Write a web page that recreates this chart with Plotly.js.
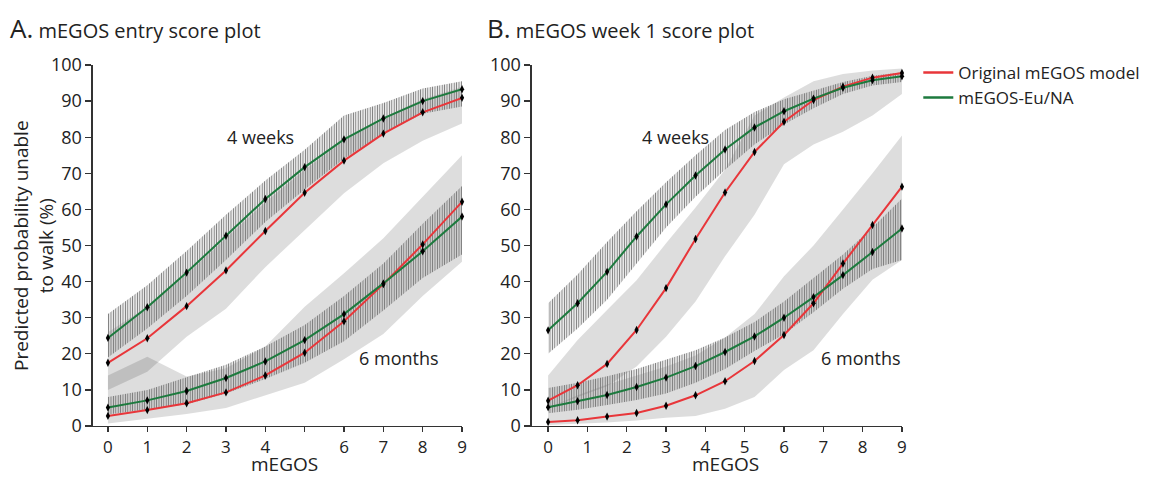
<!DOCTYPE html>
<html>
<head>
<meta charset="utf-8">
<script src="https://cdn.plot.ly/plotly-3.0.1.min.js"></script>
<style>html,body{margin:0;padding:0;background:#fff;}#chart{width:1158px;height:478px;}</style>
</head>
<body>
<div id="chart"></div>
<script>
// ---- Data ----
const xTickVals = [0,1,2,3,4,5,6,7,8,9];
const xTickTextA = ['0','1','2','3','4','','6','7','8','9'];
const xTickTextB = ['0','1','2','3','4','5','6','7','8','9'];

// Panel A: mEGOS entry score
const xA = [0,1,2,3,4,5,6,7,8,9];
const redA4w   = [17.5, 24.3, 33.2, 43.1, 54.0, 64.6, 73.5, 81.0, 86.9, 90.9];
const greenA4w = [24.4, 32.9, 42.5, 52.7, 62.9, 71.7, 79.4, 85.2, 90.0, 93.3];
const redA6m   = [2.8, 4.4, 6.3, 9.3, 14.0, 20.3, 29.0, 39.3, 50.3, 62.1];
const greenA6m = [5.1, 7.1, 9.7, 13.3, 17.9, 23.8, 31.0, 39.5, 48.4, 58.0];
const redA4wLo = [10, 15, 24.7, 32.5, 44, 54.3, 64.5, 72.8, 79, 83.8];
const redA4wHi = [26, 33, 42, 52, 62, 71, 79, 85.5, 90.5, 94];
const greenA4wLo = [19, 27, 36, 46, 56.5, 65.5, 74, 81, 86.5, 88.5];
const greenA4wHi = [31, 39, 48.5, 58.5, 68, 76.5, 86, 89.5, 93.5, 95.5];
const redA6mLo = [0.7, 2, 3.3, 5, 8.5, 12, 18.5, 25.5, 36, 45.5];
const redA6mHi = [14, 19.2, 13.7, 16, 22, 33, 42.3, 52, 63.5, 75];
const greenA6mLo = [3.2, 4.5, 6, 9, 13, 17.5, 23.5, 32, 41, 47.5];
const greenA6mHi = [8, 10, 13.5, 17, 22, 28, 36, 45, 56, 66.5];

// Panel B: mEGOS week 1 score
const xB = [0,0.75,1.5,2.25,3,3.75,4.5,5.25,6,6.75,7.5,8.25,9];
const redB4w   = [7.0, 11.3, 17.2, 26.6, 38.2, 51.8, 64.7, 75.9, 84.3, 90.3, 94.0, 96.5, 97.8];
const greenB4w = [26.5, 34.0, 42.7, 52.5, 61.4, 69.4, 76.6, 82.7, 87.2, 90.7, 93.7, 95.8, 96.9];
const redB6m   = [1.1, 1.6, 2.6, 3.6, 5.6, 8.5, 12.4, 18.0, 25.2, 34.0, 45.0, 55.7, 66.3];
const greenB6m = [5.2, 6.9, 8.6, 10.8, 13.4, 16.6, 20.5, 24.8, 30.0, 35.7, 41.8, 48.2, 54.7];
const redB4wLo = [5, 8, 11, 16.5, 24.7, 34.5, 47, 58.5, 72.5, 78, 81.5, 86, 92];
const redB4wHi = [14, 23.8, 32.1, 40.4, 50.6, 60.5, 71, 86, 91, 95.5, 97.5, 98.5, 99];
const greenB4wLo = [20, 27, 35, 45, 55, 63.5, 71, 78, 83.5, 88, 92, 94.3, 95.3];
const greenB4wHi = [34, 42, 51, 59.5, 67.5, 75, 82, 87, 90.5, 93, 95.3, 97, 98];
const redB6mLo = [0.3, 0.6, 1, 1.5, 2.3, 2.8, 4.8, 8, 15.5, 21, 31, 40.5, 46];
const redB6mHi = [5, 8.5, 11.5, 14, 16.5, 19.5, 24.5, 31, 41.5, 50, 60, 70, 80.5];
const greenB6mLo = [3.5, 4.5, 5.8, 7.2, 9, 12, 15.8, 20.8, 25.4, 31.5, 38, 43.5, 46];
const greenB6mHi = [10.5, 12, 13.8, 15.8, 18.5, 21, 24.5, 28.8, 34.5, 41, 47.5, 55, 63];

// ---- Styles ----
const RED = '#e8363a';
const GREEN = '#1d7a3e';
const GRAYFILL = 'rgba(0,0,0,0.135)';

function grayBand(x, lo, hi, ax) {
  return {
    x: x.concat(x.slice().reverse()),
    y: lo.concat(hi.slice().reverse()),
    xaxis: ax[0], yaxis: ax[1],
    type: 'scatter', mode: 'lines', fill: 'toself',
    fillcolor: GRAYFILL, line: {width: 0, color: 'rgba(0,0,0,0)'},
    hoverinfo: 'skip', showlegend: false
  };
}
function hatchBand(x, lo, hi, ax) {
  return {
    x: x.concat(x.slice().reverse()),
    y: lo.concat(hi.slice().reverse()),
    xaxis: ax[0], yaxis: ax[1],
    type: 'scatter', mode: 'lines', fill: 'toself',
    fillcolor: 'rgba(0,0,0,0)',
    fillpattern: {shape: '|', size: 2.4, solidity: 0.45, fgcolor: '#777', bgcolor: 'rgba(0,0,0,0)'},
    line: {width: 0, color: 'rgba(0,0,0,0)'},
    hoverinfo: 'skip', showlegend: false
  };
}
function curve(x, y, color, ax) {
  return {
    x: x, y: y, xaxis: ax[0], yaxis: ax[1],
    type: 'scatter', mode: 'lines+markers',
    line: {color: color, width: 2},
    marker: {symbol: 'diamond-tall', size: 6, color: '#000'},
    cliponaxis: false, showlegend: false
  };
}

const A = ['x','y'], B = ['x2','y2'];
const traces = [
  grayBand(xA, redA4wLo, redA4wHi, A),
  grayBand(xA, redA6mLo, redA6mHi, A),
  grayBand(xB, redB4wLo, redB4wHi, B),
  grayBand(xB, redB6mLo, redB6mHi, B),
  hatchBand(xA, greenA4wLo, greenA4wHi, A),
  hatchBand(xA, greenA6mLo, greenA6mHi, A),
  hatchBand(xB, greenB4wLo, greenB4wHi, B),
  hatchBand(xB, greenB6mLo, greenB6mHi, B),
  curve(xA, redA4w, RED, A),
  curve(xA, redA6m, RED, A),
  curve(xA, greenA4w, GREEN, A),
  curve(xA, greenA6m, GREEN, A),
  curve(xB, redB4w, RED, B),
  curve(xB, redB6m, RED, B),
  curve(xB, greenB4w, GREEN, B),
  curve(xB, greenB6m, GREEN, B),
  {x:[null], y:[null], type:'scatter', mode:'lines', line:{color:RED, width:2.5}, name:'Original mEGOS model', showlegend:true},
  {x:[null], y:[null], type:'scatter', mode:'lines', line:{color:GREEN, width:2.5}, name:'mEGOS-Eu/NA', showlegend:true}
];

const FONT = '"Open Sans", "DejaVu Sans", sans-serif';
const tickFont = {family: FONT, size: 18, color: '#222'};
function xAxis(domain, range, ticktext, anchor) {
  return {
    domain: domain, range: range, anchor: anchor,
    tickvals: xTickVals, ticktext: ticktext,
    showline: true, linecolor: '#333', linewidth: 1.5,
    ticks: 'outside', ticklen: 5, tickwidth: 1.3, tickcolor: '#333',
    tickfont: {family: FONT, size: 17, color: '#222'}, showgrid: false, zeroline: false
  };
}
function yAxis(anchor) {
  return {
    domain: [0.1088, 0.864], range: [0, 100], anchor: anchor,
    tickmode: 'linear', tick0: 0, dtick: 10,
    showline: true, linecolor: '#333', linewidth: 1.5,
    ticks: 'outside', ticklen: 6, tickwidth: 1.3, tickcolor: '#333',
    tickfont: tickFont, showgrid: false, zeroline: false
  };
}

const annFont = {family: FONT, size: 18, color: '#222'};
const axTitleFont = {family: FONT, size: 19, color: '#222'};
const layout = {
  width: 1158, height: 478,
  margin: {l: 0, r: 0, t: 0, b: 0},
  paper_bgcolor: '#fff', plot_bgcolor: '#fff',
  font: {family: FONT, color: '#222'},
  xaxis: xAxis([0.0803, 0.399], [-0.38, 9], xTickTextA, 'y'),
  yaxis: yAxis('x'),
  xaxis2: xAxis([0.4594, 0.7789], [-0.41, 9], xTickTextB, 'y2'),
  yaxis2: yAxis('x2'),
  showlegend: true,
  legend: {x: 0.793, y: 0.885, xanchor: 'left', yanchor: 'top', font: {family: FONT, size: 17, color: '#222'}, bgcolor: 'rgba(0,0,0,0)', tracegroupgap: 0},
  annotations: [
    {xref:'paper', yref:'paper', x: 8/1158, y: 1-28/478, xanchor:'left', yanchor:'middle', showarrow:false,
     text: "<span style='font-size:26px'>A.</span> mEGOS entry score plot", font: {family: FONT, size: 20, color: '#222'}},
    {xref:'paper', yref:'paper', x: 485/1158, y: 1-28/478, xanchor:'left', yanchor:'middle', showarrow:false,
     text: "<span style='font-size:26px'>B.</span> mEGOS week 1 score plot", font: {family: FONT, size: 20, color: '#222'}},
    {xref:'paper', yref:'paper', x: 34/1158, y: 1-246/478, xanchor:'center', yanchor:'middle', showarrow:false, textangle: -90,
     text: 'Predicted probability unable<br>to walk (%)', font: {family: FONT, size: 19, color: '#222'}},
    {xref:'paper', yref:'paper', x: 284/1158, y: 0, xanchor:'center', yanchor:'bottom', showarrow:false, borderpad: 0,
     text: 'mEGOS', font: axTitleFont},
    {xref:'paper', yref:'paper', x: 725/1158, y: 0, xanchor:'center', yanchor:'bottom', showarrow:false, borderpad: 0,
     text: 'mEGOS', font: axTitleFont},
    {xref:'x', yref:'y', x: 3.87, y: 80, showarrow:false, text:'4 weeks', font: annFont},
    {xref:'x', yref:'y', x: 7.4, y: 18.8, showarrow:false, text:'6 months', font: annFont},
    {xref:'x2', yref:'y2', x: 3.23, y: 80, showarrow:false, text:'4 weeks', font: annFont},
    {xref:'x2', yref:'y2', x: 7.96, y: 18.8, showarrow:false, text:'6 months', font: annFont}
  ]
};

Plotly.newPlot('chart', traces, layout, {displayModeBar: false, staticPlot: true});
</script>
</body>
</html>
